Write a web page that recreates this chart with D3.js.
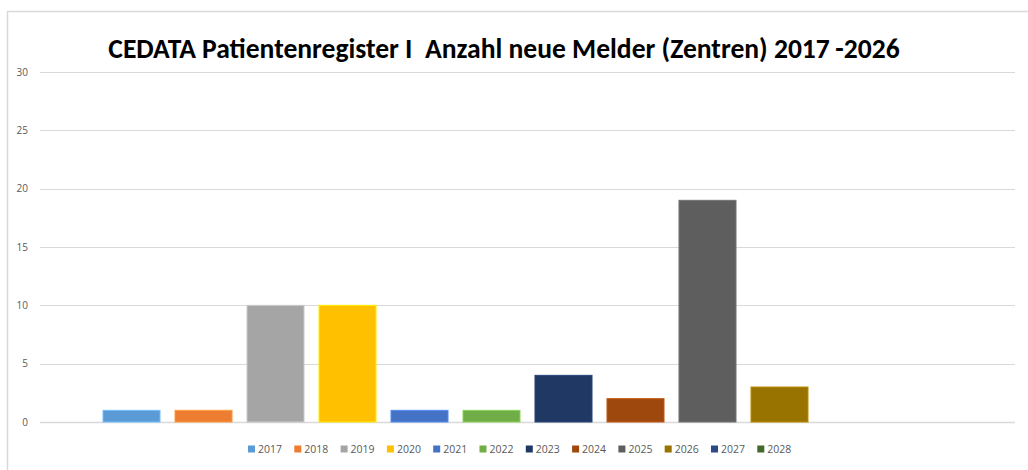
<!DOCTYPE html>
<html><head><meta charset="utf-8">
<script src="https://cdn.jsdelivr.net/npm/d3@7/dist/d3.min.js"></script>
<style>html,body{margin:0;padding:0;background:#fff;}svg{display:block;}</style>
</head><body>
<script>
const years = ["2017","2018","2019","2020","2021","2022","2023","2024","2025","2026","2027","2028"];
const values = [1,1,10,10,1,1,4,2,19,3,0,0];
const colors = ["#5B9BD5","#ED7D31","#A5A5A5","#FFC000","#4472C4","#70AD47","#203864","#9E480E","#5E5E5E","#997300","#2B4A8B","#43682B"];
const yTicks = [0,5,10,15,20,25,30];
const titleText = "CEDATA Patientenregister I\u00a0 Anzahl neue Melder (Zentren) 2017\u2009-2026";

const W = 1028, H = 470;
const svg = d3.select("body").append("svg").attr("width", W).attr("height", H);

// chart frame
svg.append("path").attr("d", `M7.5,${H} V11.5 H${W}`).attr("fill","none").attr("stroke","#d9d9d9").attr("stroke-width",1.5);

const x = d3.scaleBand().domain(years).range([40,1015]).paddingInner(0.208).paddingOuter(0.875);
const y = d3.scaleLinear().domain([0,30]).range([422,72]);

// gridlines
svg.append("g").selectAll("line").data(yTicks).join("line")
  .attr("x1",40).attr("x2",1015)
  .attr("y1",d=>Math.round(y(d))+0.5).attr("y2",d=>Math.round(y(d))+0.5)
  .attr("stroke","#d9d9d9").attr("stroke-width",d=>d===0?1.5:1);

// y axis labels
const yAxis = d3.axisLeft(y).tickValues(yTicks).tickSize(0).tickPadding(0);
const ya = svg.append("g").attr("transform","translate(28,0)").call(yAxis);
ya.select(".domain").remove();
ya.selectAll("text").attr("font-family","'Open Sans', sans-serif").attr("font-size",10).attr("fill","#595959");

// bars
svg.append("g").selectAll("rect").data(years.map((d,i)=>({year:d,v:values[i],c:colors[i]}))).join("rect")
  .attr("x",d=>x(d.year)).attr("width",x.bandwidth())
  .attr("y",d=>y(d.v)).attr("height",d=>y(0)-y(d.v))
  .attr("fill",d=>d.c)
  .attr("stroke",d=>d.v>0?d3.color(d.c).brighter(0.6):"none").attr("stroke-width",1);

// title
const t = svg.append("text").attr("x",504).attr("y",58).attr("text-anchor","middle")
  .attr("font-family","Carlito, 'Liberation Sans Narrow', 'Open Sans', sans-serif")
  .attr("font-weight","bold").attr("font-size",24).attr("fill","#000").attr("xml:space","preserve")
  .style("white-space","pre").text(titleText);
const tw = t.node().getComputedTextLength();
t.attr("font-size", 24*792/tw);

// legend
const lg = svg.append("g");
const step = 46.3;
years.forEach((yr,i)=>{
  const gx = 248 + i*step;
  lg.append("rect").attr("x",gx).attr("y",445.5).attr("width",7).attr("height",7).attr("fill",colors[i]);
  lg.append("text").attr("x",gx+10).attr("y",453).attr("font-family","'Open Sans', sans-serif")
    .attr("font-size",10.5).attr("fill","#595959").text(yr);
});
</script>
</body></html>
